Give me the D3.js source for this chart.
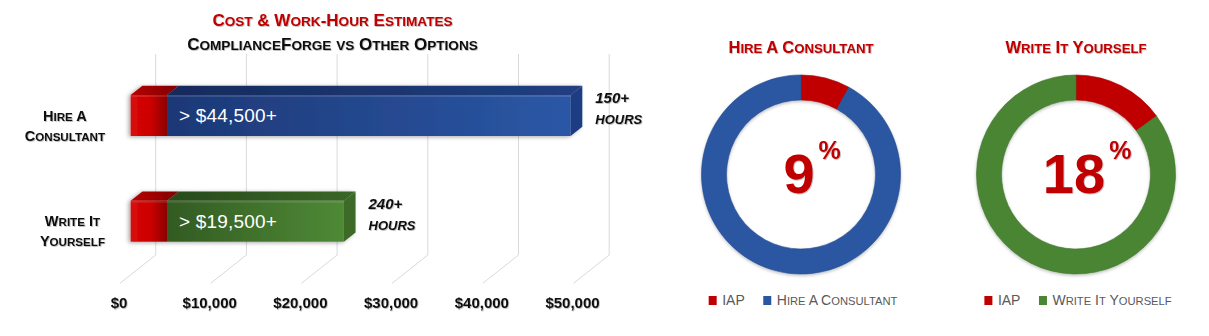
<!DOCTYPE html>
<html><head><meta charset="utf-8">
<script src="https://cdn.jsdelivr.net/npm/d3@7"></script>
<style>html,body{margin:0;padding:0;background:#fff;} svg{display:block}</style>
</head><body>
<svg id="chart" width="1209" height="336"></svg>
<script>
// ---------- DATA ----------
const categories = ["Hire A Consultant", "Write It Yourself"];
const categoryLines = [["Hire A", "Consultant"], ["Write It", "Yourself"]];
const iapCost = [4000, 4000];
const optionCost = [44500, 19500];
const costLabels = ["> $44,500+", "> $19,500+"];
const hoursLabels = ["150+", "240+"];
const xTicks = [0, 10000, 20000, 30000, 40000, 50000];
const donutTitles = ["Hire A Consultant", "Write It Yourself"];
const donutIapShare = [8, 15];          // arc share (%)
const donutPctLabels = ["9", "18"];
const legendSeries = ["IAP"];
const chartTitle = "Cost & Work-Hour Estimates";
const chartSubtitle = "ComplianceForge vs Other Options";

// ---------- STYLE ----------
const FONT = "'Liberation Sans', Arial, Helvetica, sans-serif";
const RED = "#c00000";
const optColors = [
  {front: ["#1d3876", "#2b57a6"], top: ["#152b5c", "#213f82"], right: "#1f3d84", flat: "#2b56a2"},
  {front: ["#325a23", "#4f8a35"], top: ["#284a1b", "#3a6727"], right: "#3c6a27", flat: "#4a8533"}
];

const svg = d3.select("#chart");
svg.append("rect").attr("width", 1209).attr("height", 336).attr("fill", "#fff");
const defs = svg.append("defs");

function hGrad(id, stops) {
  const g = defs.append("linearGradient").attr("id", id).attr("x1", 0).attr("x2", 1).attr("y1", 0).attr("y2", 0);
  stops.forEach(s => g.append("stop").attr("offset", s[0]).attr("stop-color", s[1]));
}
hGrad("redFront", [[0, "#d80a0a"], [0.55, "#cc0000"], [1, "#8c0000"]]);
hGrad("redTop", [[0, "#b80000"], [1, "#800000"]]);
optColors.forEach((c, i) => {
  hGrad("optFront" + i, [[0, c.front[0]], [1, c.front[1]]]);
  hGrad("optTop" + i, [[0, c.top[0]], [1, c.top[1]]]);
});
const sh = defs.append("filter").attr("id", "barShadow").attr("x", "-10%").attr("y", "-30%").attr("width", "120%").attr("height", "160%");
sh.append("feDropShadow").attr("dx", -2).attr("dy", 1).attr("stdDeviation", 2).attr("flood-color", "#000").attr("flood-opacity", 0.35);
const ts = defs.append("filter").attr("id", "txtShadow");
ts.append("feDropShadow").attr("dx", 0.8).attr("dy", 0.8).attr("stdDeviation", 0.7).attr("flood-color", "#000").attr("flood-opacity", 0.3);
const ds = defs.append("filter").attr("id", "ringShadow").attr("x", "-20%").attr("y", "-20%").attr("width", "140%").attr("height", "140%");
ds.append("feDropShadow").attr("dx", 0).attr("dy", 1.5).attr("stdDeviation", 1.5).attr("flood-color", "#000").attr("flood-opacity", 0.25);

function smallCaps(sel, str, size, ratio) {
  ratio = ratio || 0.8;
  const runs = str.match(/[a-z]+|[^a-z]+/g);
  runs.forEach(r => {
    const lower = /[a-z]/.test(r[0]);
    sel.append("tspan").attr("font-size", lower ? size * ratio : size).text(lower ? r.toUpperCase() : r);
  });
  return sel;
}

// ---------- BAR CHART ----------
const X = d3.scaleLinear().domain([0, 50000]).range([0, 453.5]);
const backX0 = 155.7, frontX0 = 130.7, labelX0 = 118.5;
const gridTop = 54, gridBottom = 255, floorDX = -35.7, floorDY = 28.3;
const y = d3.scalePoint().domain(categories).range([115.5, 221.2]);
const barH = 41, dX = 11.7, dY = 9.3;

// titles
const t1 = svg.append("text").attr("x", 332.5).attr("y", 26).attr("text-anchor", "middle")
  .attr("font-family", FONT).attr("font-weight", "bold").attr("fill", RED).attr("filter", "url(#txtShadow)");
smallCaps(t1, chartTitle, 17);
const t2 = svg.append("text").attr("x", 332.5).attr("y", 50).attr("text-anchor", "middle")
  .attr("font-family", FONT).attr("font-weight", "bold").attr("fill", "#111").attr("filter", "url(#txtShadow)");
smallCaps(t2, chartSubtitle, 17);

// gridlines (back wall + floor)
svg.append("g").selectAll("path").data(xTicks).join("path")
  .attr("d", d => {
    const bx = backX0 + X(d);
    return `M${bx},${gridTop}V${gridBottom}L${bx + floorDX},${gridBottom + floorDY}`;
  })
  .attr("fill", "none").attr("stroke", "#d9d9d9").attr("stroke-width", 1);

// axis labels
const xLab = d3.scaleLinear().domain(X.domain()).range(X.range().map(v => v + labelX0));
const ax = svg.append("g").attr("transform", "translate(0,297.5)")
  .call(d3.axisBottom(xLab).tickValues(xTicks).tickFormat(d3.format("$,")).tickSize(0).tickPadding(0));
ax.select(".domain").remove();
ax.selectAll("text").attr("font-family", FONT).attr("font-size", 15).attr("font-weight", "bold")
  .attr("fill", "#111").attr("filter", "url(#txtShadow)");

// bars
const fx = v => frontX0 + X(v);
const barsG = svg.append("g");
categories.forEach((cat, i) => {
  const cy = y(cat), top = cy - barH / 2, bottom = cy + barH / 2;
  const segs = [
    {s: 0, e: iapCost[i], front: "url(#redFront)", top: "url(#redTop)", right: "#8c0000"},
    {s: iapCost[i], e: iapCost[i] + optionCost[i], front: `url(#optFront${i})`, top: `url(#optTop${i})`, right: optColors[i].right}
  ];
  const g = barsG.append("g").attr("filter", "url(#barShadow)");
  segs.forEach((sg, k) => {
    const x0 = fx(sg.s), x1 = fx(sg.e);
    g.append("path").attr("d", `M${x0},${top}L${x1},${top}L${x1 + dX},${top - dY}L${x0 + dX},${top - dY}Z`).attr("fill", sg.top);
    g.append("rect").attr("x", x0).attr("y", top).attr("width", x1 - x0).attr("height", barH).attr("fill", sg.front);
    if (k === segs.length - 1) {
      g.append("path").attr("d", `M${x1},${top}L${x1 + dX},${top - dY}L${x1 + dX},${bottom - dY}L${x1},${bottom}Z`).attr("fill", sg.right);
    }
  });
  g.append("rect").attr("x", fx(0)).attr("y", top).attr("width", fx(segs[1].e) - fx(0)).attr("height", 2)
    .attr("fill", "#fff").attr("opacity", 0.12);

  // value label
  svg.append("text").attr("x", fx(iapCost[i]) + 12).attr("y", cy + 6.5)
    .attr("font-family", FONT).attr("font-size", 19).attr("letter-spacing", 0.2).attr("fill", "#fff").text(costLabels[i]);

  // hours label
  const hx = fx(segs[1].e) + dX + 13;
  svg.append("text").attr("x", hx).attr("y", cy - 12.5).attr("font-family", FONT).attr("font-size", 15)
    .attr("font-weight", "bold").attr("font-style", "italic").attr("fill", "#111").attr("filter", "url(#txtShadow)").text(hoursLabels[i]);
  svg.append("text").attr("x", hx).attr("y", cy + 8.5).attr("font-family", FONT).attr("font-size", 13)
    .attr("font-weight", "bold").attr("font-style", "italic").attr("fill", "#111").attr("filter", "url(#txtShadow)").text("HOURS");

  // category label (block right-aligned, lines centred)
  const lg = svg.append("g");
  const lines = categoryLines[i].map((ln, j) => {
    const t = lg.append("text").attr("y", cy + 5 + j * 20).attr("text-anchor", "middle")
      .attr("font-family", FONT).attr("font-weight", "bold").attr("fill", "#111").attr("filter", "url(#txtShadow)");
    smallCaps(t, ln, 14.5);
    return t;
  });
  const maxW = d3.max(lines, t => t.node().getComputedTextLength());
  lines.forEach(t => t.attr("x", 105 - maxW / 2));
});

// ---------- DONUTS ----------
const donutCx = [801, 1076], donutCy = 174.5;
const arc = d3.arc().innerRadius(74.5).outerRadius(99.5);
const pie = d3.pie().sort(null).value(d => d.v);
donutTitles.forEach((title, i) => {
  const cx = donutCx[i];
  const g = svg.append("g").attr("transform", `translate(${cx},${donutCy})`);
  const slices = [{name: "IAP", v: donutIapShare[i], c: RED}, {name: title, v: 100 - donutIapShare[i], c: optColors[i].flat}];
  g.append("g").attr("filter", "url(#ringShadow)").selectAll("path").data(pie(slices)).join("path")
    .attr("d", arc).attr("fill", d => d.data.c)
    .attr("stroke", d => d3.color(d.data.c).darker(0.4)).attr("stroke-width", 0.6);

  const tt = svg.append("text").attr("x", cx).attr("y", 53).attr("text-anchor", "middle")
    .attr("font-family", FONT).attr("font-weight", "bold").attr("fill", RED).attr("filter", "url(#txtShadow)");
  smallCaps(tt, title, 16.5);

  const num = svg.append("text").attr("x", cx - 2).attr("y", donutCy + 18.5).attr("text-anchor", "middle")
    .attr("font-family", FONT).attr("font-weight", "bold").attr("font-size", 56).attr("fill", RED)
    .attr("filter", "url(#txtShadow)").text(donutPctLabels[i]);
  const w = num.node().getComputedTextLength();
  svg.append("text").attr("x", cx - 2 + w / 2 + 4).attr("y", donutCy - 15.5)
    .attr("font-family", FONT).attr("font-weight", "bold").attr("font-size", 25).attr("fill", RED)
    .attr("filter", "url(#txtShadow)").text("%");

  // legend
  const leg = svg.append("g");
  const items = [{name: legendSeries[0], c: RED}, {name: title, c: optColors[i].flat}];
  let xpos = 0;
  items.forEach((it, k) => {
    const ig = leg.append("g").attr("transform", `translate(${xpos},0)`);
    ig.append("rect").attr("x", 0).attr("y", 296).attr("width", 8).attr("height", 9).attr("fill", it.c);
    const t = ig.append("text").attr("x", 13.5).attr("y", 305).attr("font-family", FONT).attr("fill", "#595959");
    smallCaps(t, it.name, 14);
    xpos += 13.5 + t.node().getComputedTextLength() + 18.5;
  });
  const totalW = xpos - 18.5;
  leg.attr("transform", `translate(${cx + 2 - totalW / 2},0)`);
});
</script>
</body></html>
